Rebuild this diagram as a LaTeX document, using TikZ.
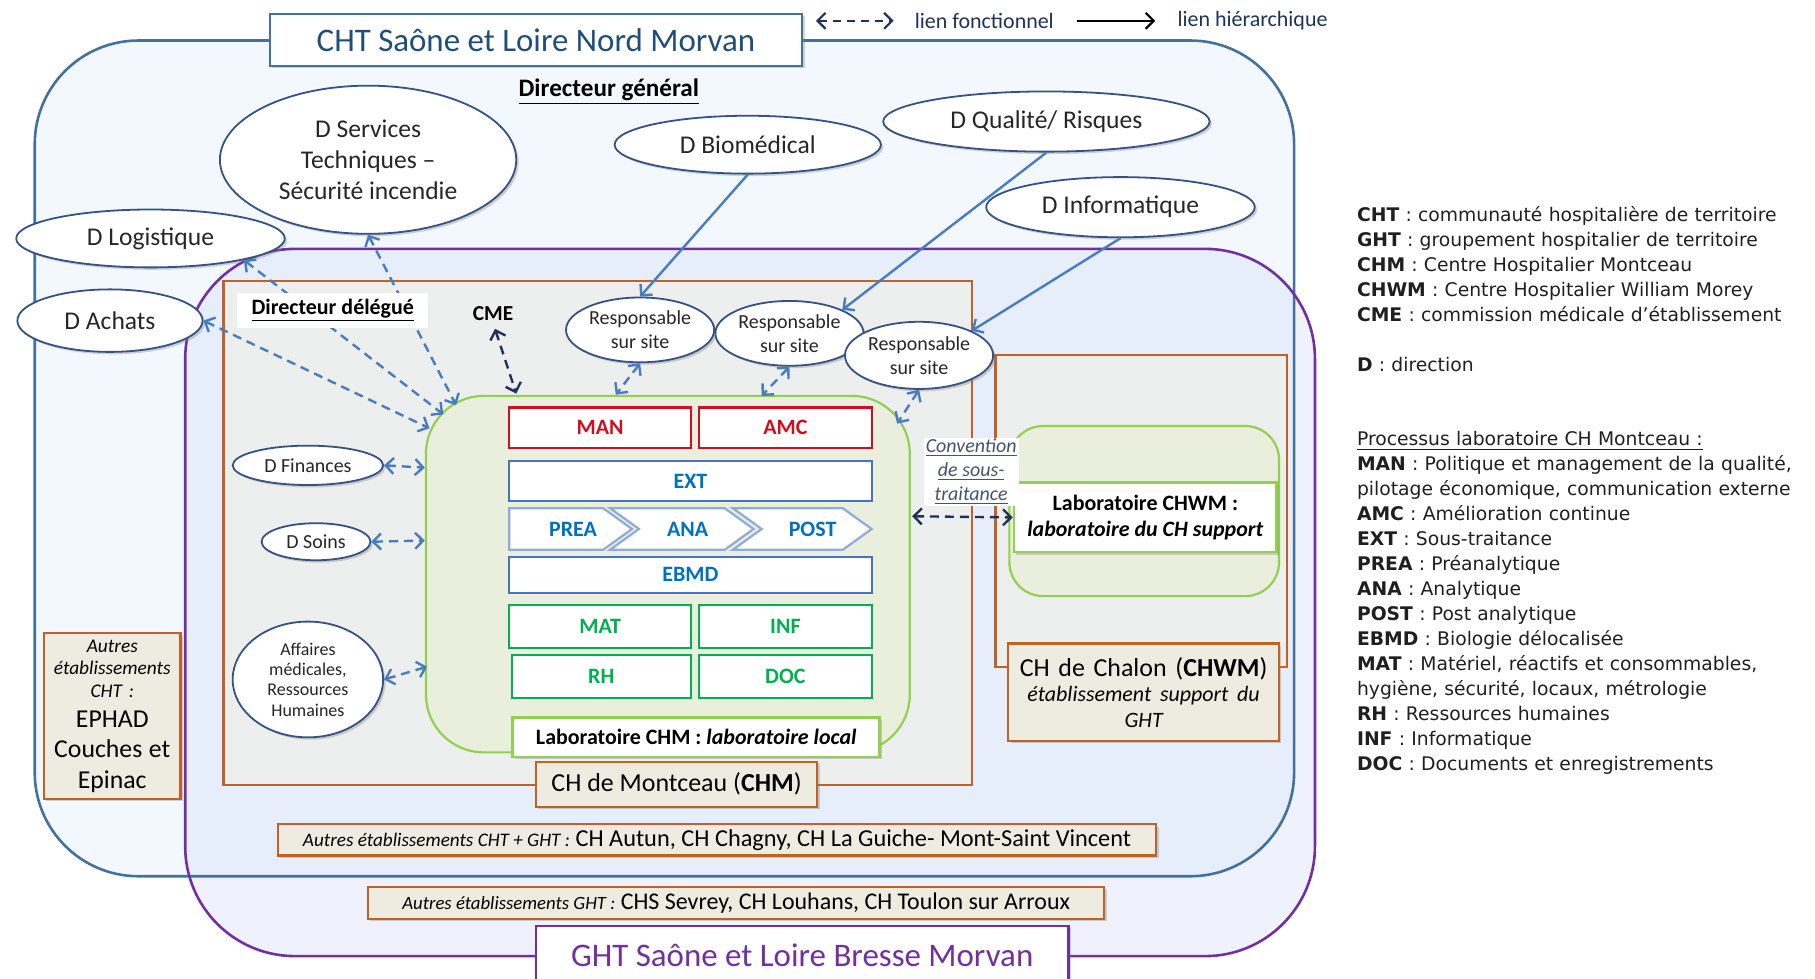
\documentclass[tikz,border=0pt]{standalone}
\usepackage{fontspec}
\setmainfont{Carlito}
\newfontfamily\legfont{DejaVu Sans}
\usetikzlibrary{arrows.meta,shapes.geometric,shadows}

\definecolor{chtblue}{RGB}{65,113,156}
\definecolor{chtfill}{RGB}{242,248,253}
\definecolor{ghtpurple}{RGB}{112,48,160}
\definecolor{ghtfill}{RGB}{214,222,248}
\definecolor{titleblue}{RGB}{31,78,121}
\definecolor{ellblue}{RGB}{52,82,130}
\definecolor{arrblue}{RGB}{72,124,192}
\definecolor{navyline}{RGB}{31,50,90}
\definecolor{chbrown}{RGB}{192,98,38}
\definecolor{chgray}{RGB}{237,238,238}
\definecolor{beige}{RGB}{238,236,225}
\definecolor{labgreen}{RGB}{146,208,80}
\definecolor{labfill}{RGB}{234,239,221}
\definecolor{manred}{RGB}{204,16,32}
\definecolor{extblue}{RGB}{68,114,196}
\definecolor{exttext}{RGB}{0,112,192}
\definecolor{chevblue}{RGB}{143,170,220}
\definecolor{matgreen}{RGB}{0,176,80}
\definecolor{convgray}{RGB}{68,84,106}

\begin{document}
\begin{tikzpicture}[x=0.58pt,y=0.58pt,yscale=-1,xscale=1,
  sz/.style 2 args={minimum width=#1*0.58pt,minimum height=#2*0.58pt},
  shade box/.style={drop shadow={shadow xshift=1.2pt,shadow yshift=-1.2pt,opacity=0.35}},
  ell/.style={ellipse,draw=ellblue,line width=0.9pt,fill=white,inner sep=0pt,align=center,text=black!85,shade box},
  proc/.style={draw,line width=1.1pt,fill=white,inner sep=0pt,font=\fontsize{11}{13}\selectfont\bfseries},
  chev/.style={chevblue,fill=white,line width=1.1pt},
  chevtext/.style={inner sep=0pt,text=exttext,font=\fontsize{11}{13}\selectfont\bfseries},
  beigebox/.style={draw=chbrown,line width=1.1pt,fill=beige,inner sep=0pt,align=center,shade box},
  titlebox/.style={draw,line width=1.2pt,fill=white,inner sep=0pt,font=\fontsize{16.5}{20}\selectfont,shade box},
  >={Straight Barb[length=4pt,width=8pt]},
  fonc/.style={arrblue,line width=1.2pt,dash pattern=on 4.5pt off 3pt,<->},
  foncnavy/.style={navyline,line width=1.2pt,dash pattern=on 4.5pt off 3pt,<->},
  hier/.style={arrblue,line width=1.2pt,->}]
\useasboundingbox (0,0) rectangle (1568,845);

%Shape: Rounded rectangles CHT / GHT
\fill[chtfill,rounded corners=52pt] (30,35) rectangle (1118,757);
\fill[ghtfill,fill opacity=0.4,rounded corners=55pt] (160,215) rectangle (1136,826);
\draw[chtblue,line width=1.3pt,rounded corners=52pt] (30,35) rectangle (1118,757);
\draw[ghtpurple,line width=1.3pt,rounded corners=55pt] (160,215) rectangle (1136,826);

%Shape: Rectangle CH de Montceau
\draw[chbrown,fill=chgray,line width=1.1pt] (193,243) rectangle (840,678);
%Shape: Rectangle CH de Chalon
\draw[chbrown,fill=chgray,line width=1.1pt] (860,307) rectangle (1112,576);

%Shape: Rounded rectangles laboratoires
\draw[labgreen,fill=labfill,line width=1.1pt,rounded corners=29pt] (368,342) rectangle (786,650);
\draw[labgreen,fill=labfill,line width=1.1pt,rounded corners=17pt] (872,368) rectangle (1105,515);

% Processus
\node[proc,draw=manred,text=manred,sz={157}{35}] (man) at (518.5,369.5) {MAN};
\node[proc,draw=manred,text=manred,sz={149}{35}] (amc) at (678.5,369.5) {AMC};
\node[proc,draw=extblue,text=exttext,sz={313}{35}] (ext) at (596.5,415.5) {EXT};
%Shape: Chevrons
\draw[chev] (440,439) -- (521,439) -- (546,457) -- (521,475) -- (440,475) -- cycle;
\draw[chev] (527,439) -- (626,439) -- (651,457) -- (626,475) -- (527,475) -- (552,457) -- cycle;
\draw[chev] (633,439) -- (728,439) -- (753,457) -- (728,475) -- (633,475) -- (658,457) -- cycle;
\node[chevtext] (prea) at (495,457) {PREA};
\node[chevtext] (ana) at (594,457) {ANA};
\node[chevtext] (post) at (702,457) {POST};
\node[proc,draw=extblue,text=exttext,sz={313}{31}] (ebmd) at (596.5,496.5) {EBMD};
\node[proc,draw=matgreen,text=matgreen,sz={157}{37}] (mat) at (518.5,541.5) {MAT};
\node[proc,draw=matgreen,text=matgreen,sz={149}{37}] (inf) at (678.5,541.5) {INF};
\node[proc,draw=matgreen,text=matgreen,sz={155}{37}] (rh) at (519.5,584.5) {RH};
\node[proc,draw=matgreen,text=matgreen,sz={149}{37}] (doc) at (678.5,584.5) {DOC};

% Text Node
\node[draw=labgreen,line width=1.3pt,fill=white,inner sep=0pt,sz={317}{34},font=\fontsize{11}{13}\selectfont\bfseries,shade box] (labloc) at (601.5,637) {Laboratoire CHM : \textit{laboratoire local}};
\node[beigebox,sz={243}{39},font=\fontsize{13}{15}\selectfont] (chm) at (584.5,677.5) {CH de Montceau (\textbf{CHM})};
\node[draw=labgreen,line width=1.3pt,fill=white,inner sep=0pt,align=center,sz={227}{60},font=\fontsize{11}{13.3}\selectfont\bfseries,shade box] (chwmlab) at (989.5,447) {Laboratoire CHWM :\\ \textit{laboratoire du CH support}};
\node[beigebox,sz={234}{84},text width=130pt,font=\fontsize{13}{14.5}\selectfont] (chalon) at (988,598) {CH de Chalon (\textbf{CHWM})\par{\fontsize{11}{12.8}\selectfont\itshape établissement support du\par GHT\par}};

% Autres etablissements
\node[beigebox,sz={118}{143},text width=66pt] (autrescht) at (97,618.5) {{\fontsize{9.7}{11.3}\selectfont\itshape Autres\par établissements\par CHT :\par}{\fontsize{12.9}{15.2}\selectfont EPHAD\par Couches et\par Epinac\par}};
\node[beigebox,sz={759}{27},font=\fontsize{12.2}{14}\selectfont] (autresght1) at (619.5,725.5) {{\fontsize{9.6}{11}\selectfont\itshape Autres établissements CHT + GHT :} CH Autun, CH Chagny, CH La Guiche- Mont-Saint Vincent};
\node[beigebox,sz={636}{28},font=\fontsize{12}{14}\selectfont] (autresght2) at (636,780) {{\fontsize{9.4}{11}\selectfont\itshape Autres établissements GHT :} CHS Sevrey, CH Louhans, CH Toulon sur Arroux};

%Shape: Ellipses directions
\node[ell,sz={256}{128},font=\fontsize{12.8}{15.7}\selectfont] (serv) at (318,138) {D Services\\ Techniques --\\ Sécurité incendie};
\node[ell,sz={232}{50},font=\fontsize{12.8}{15.7}\selectfont] (logi) at (130,206) {D Logistique};
\node[ell,sz={160}{54},font=\fontsize{12.8}{15.7}\selectfont] (achats) at (95,277) {D Achats};
\node[ell,sz={230}{50},font=\fontsize{12.8}{15.7}\selectfont] (bio) at (646,125) {D Biomédical};
\node[ell,sz={282}{52},font=\fontsize{12.8}{15.7}\selectfont] (qual) at (904,105) {D Qualité/ Risques};
\node[ell,sz={232}{52},font=\fontsize{12.8}{15.7}\selectfont] (info) at (968,179) {D Informatique};
\node[ell,sz={128}{56},font=\fontsize{10}{12.2}\selectfont] (resp1) at (553,285) {Responsable\\ sur site};
\node[ell,sz={128}{56},font=\fontsize{10}{12.2}\selectfont] (resp2) at (682,288) {Responsable\\ sur site};
\node[ell,sz={128}{58},font=\fontsize{10}{12.2}\selectfont] (resp3) at (794,307) {Responsable\\ sur site};
\node[ell,sz={130}{34},font=\fontsize{10}{12}\selectfont] (fin) at (266,402) {D Finances};
\node[ell,sz={94}{32},font=\fontsize{10}{12}\selectfont] (soins) at (273,468) {D Soins};
\node[ell,sz={130}{100},font=\fontsize{9}{10.2}\selectfont] (aff) at (266,587) {Affaires\\ médicales,\\ Ressources\\ Humaines};

% points sur le laboratoire CHM
\coordinate (labA) at (371,370);
\coordinate (labL) at (383,358);
\coordinate (labS) at (394,350);
\coordinate (labC) at (446,340);
\coordinate (lab1) at (532,341);
\coordinate (lab2) at (658,342);
\coordinate (lab3) at (775,366);
\coordinate (labF) at (367,404);
\coordinate (labSo) at (367,467);
\coordinate (labAf) at (369,576);
\coordinate (labE) at (788,446);

%Straight Lines hierarchiques
\draw[hier] (bio.south) -- (resp1.north);
\draw[hier] (qual.south) -- (resp2.24);
\draw[hier] (info.south) -- (resp3.25);

%Straight Lines fonctionnels
\draw[fonc] (logi.-13) -- (labL);
\draw[fonc] (serv.south) -- (labS);
\draw[fonc] (achats.east) -- (labA);
\draw[fonc] (resp1.south) -- (lab1);
\draw[fonc] (resp2.south) -- (lab2);
\draw[fonc] (resp3.south) -- (lab3);
\draw[fonc] (fin.east) -- (labF);
\draw[fonc] (soins.east) -- (labSo);
\draw[fonc] (aff.east) -- (labAf);

% Text Node
\node[fill=white,inner sep=0pt,sz={165}{30},font=\fontsize{11}{13}\selectfont\bfseries] (dirdel) at (287.5,268) {\underline{Directeur délégué}};
\node[inner sep=1pt,font=\fontsize{10.7}{12}\selectfont\bfseries] (cme) at (426,271) {CME};
\draw[foncnavy,shorten <=3pt] (cme.south) -- (labC);
\node[fill=white,inner sep=0pt,sz={82}{59},align=center,text=convgray,font=\fontsize{10}{12.2}\selectfont\itshape] (conv) at (839,407.5) {\underline{Convention}\\ \underline{de sous-}\\ \underline{traitance}};
\draw[foncnavy] (labE) -- (chwmlab.west);
\node[font=\fontsize{12.6}{14}\selectfont\bfseries] (dg) at (526,79) {\underline{Directeur général}};

% Titres
\node[titlebox,draw=chtblue,text=titleblue,sz={460}{45}] (chttitle) at (463,34.5) {CHT Saône et Loire Nord Morvan};
\node[titlebox,draw=ghtpurple,text=ghtpurple,sz={460}{50}] (ghttitle) at (693,825) {GHT Saône et Loire Bresse Morvan};

% Legende liens
\coordinate (lfa) at (705,18);
\coordinate (lfb) at (772,18);
\draw[navyline,line width=1.1pt,dash pattern=on 4pt off 3pt,<->] (lfa) -- (lfb);
\node[anchor=west,inner sep=0pt,text=navyline,font=\fontsize{11}{13}\selectfont] (lfonc) at (790,18) {lien fonctionnel};
\coordinate (lha) at (930,18);
\coordinate (lhb) at (998,18);
\draw[black,line width=1.1pt,->] (lha) -- (lhb);
\node[anchor=west,inner sep=0pt,text=navyline,font=\fontsize{11}{13}\selectfont] (lhier) at (1017,18) {lien hiérarchique};

% Legende sigles
\node[anchor=north west,inner sep=0pt,text width=300pt,align=left,text=black!88,font=\legfont\fontsize{9.4}{12.5}\selectfont] (legend) at (1172,178) {%
\textbf{CHT} : communauté hospitalière de territoire\\
\textbf{GHT} : groupement hospitalier de territoire\\
\textbf{CHM} : Centre Hospitalier Montceau\\
\textbf{CHWM} : Centre Hospitalier William Morey\\
\textbf{CME} : commission médicale d’établissement\\[12.5pt]
\textbf{D} : direction\\[25pt]
\underline{Processus laboratoire CH Montceau :}\\
\textbf{MAN} : Politique et management de la qualité,\\
pilotage économique, communication externe\\
\textbf{AMC} : Amélioration continue\\
\textbf{EXT} : Sous-traitance\\
\textbf{PREA} : Préanalytique\\
\textbf{ANA} : Analytique\\
\textbf{POST} : Post analytique\\
\textbf{EBMD} : Biologie délocalisée\\
\textbf{MAT} : Matériel, réactifs et consommables,\\
hygiène, sécurité, locaux, métrologie\\
\textbf{RH} : Ressources humaines\\
\textbf{INF} : Informatique\\
\textbf{DOC} : Documents et enregistrements};

\end{tikzpicture}
\end{document}
